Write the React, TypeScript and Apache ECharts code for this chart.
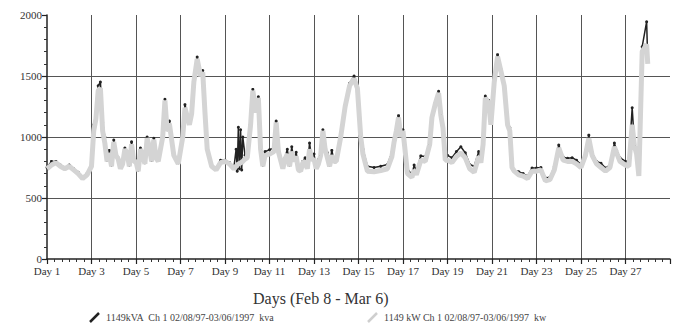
import React, { useEffect, useRef } from "react";
import * as echarts from "echarts";

// Time positions (in days) of the sampled readings
const days = [
  1.0, 1.2, 1.4, 1.6, 1.8, 2.0, 2.2, 2.4, 2.6, 2.8,
  3.0, 3.1, 3.2, 3.3, 3.4, 3.5,
  3.6, 3.7, 3.8, 3.9, 4.0, 4.1, 4.2, 4.3, 4.4, 4.5, 4.6, 4.7, 4.8, 4.9,
  5.0, 5.1, 5.2, 5.3, 5.4, 5.5, 5.6, 5.7, 5.8, 5.9,
  6.0, 6.2, 6.3, 6.4, 6.5, 6.7, 6.9, 7.1, 7.2, 7.4, 7.5, 7.6, 7.75, 7.9, 8.0, 8.1, 8.2, 8.4, 8.6, 8.8,
  9.0, 9.2, 9.4, 9.5, 9.55, 9.6, 9.65, 9.7, 9.75, 9.8, 9.9, 10.0, 10.15, 10.25, 10.4, 10.5, 10.6, 10.7, 10.8,
  11.0, 11.2, 11.3, 11.4, 11.6, 11.7, 11.8, 11.9, 12.0, 12.1, 12.2, 12.3, 12.4, 12.5, 12.6, 12.7, 12.8, 12.9,
  13.0, 13.1, 13.2, 13.3, 13.4, 13.5, 13.6, 13.7, 13.8, 13.9, 14.0,
  14.2, 14.4, 14.6, 14.8, 14.95, 15.1, 15.2, 15.4, 15.7, 16.0, 16.3,
  16.5, 16.6, 16.7, 16.8, 16.9, 17.0, 17.1, 17.2, 17.4, 17.5, 17.6, 17.8, 18.0,
  18.2, 18.3, 18.45, 18.6, 18.7, 18.8, 18.9, 19.0, 19.2, 19.4, 19.6, 19.8, 20.0, 20.2, 20.4, 20.5,
  20.6, 20.7, 20.85, 20.95, 21.1, 21.25, 21.4, 21.55, 21.7, 21.8, 21.9, 22.0,
  22.2, 22.4, 22.6, 22.8, 23.0, 23.2, 23.4, 23.6, 23.8, 24.0,
  24.2, 24.4, 24.6, 24.8, 25.0, 25.2, 25.35, 25.5, 25.7, 25.9, 26.1,
  26.3, 26.5, 26.6, 26.75, 27.0, 27.15, 27.3, 27.4, 27.5, 27.6, 27.75, 27.95, 28.0,
];

// 1149 kW Ch 1 (light grey)
const kw = [
  740, 770, 790, 760, 740, 760, 730, 700, 660, 690,
  760, 1050, 1150, 1380, 1400, 1050,
  950, 800, 870, 760, 960, 850, 820, 740, 780, 900, 870, 760, 940, 800,
  800, 720, 900, 850, 780, 990, 920, 800, 980, 830,
  800, 1000, 1300, 1050, 1110, 850, 780, 1000, 1240, 1100, 1190, 1450, 1640, 1500, 1530, 1200, 900, 760, 730, 790,
  800, 780, 740, 760, 770, 780, 780, 790, 790, 800, 820, 830, 1100, 1380, 1200, 1320, 900, 760, 850,
  860, 880, 1120, 880, 740, 820, 860, 760, 880, 800, 840, 730, 720, 790, 800, 740, 900, 810,
  820, 740, 780, 850, 1050, 900, 830, 760, 850, 800, 800,
  1000, 1250, 1420, 1480, 1400, 1000, 860, 720, 715, 725, 740,
  840, 960, 1050, 1160, 1000, 1050, 880, 700, 670, 730, 690, 810, 800,
  940, 1160, 1270, 1360, 1180, 1070, 810, 810, 790, 840, 870, 830, 740, 710, 840, 790,
  940, 1320, 1280, 1100, 1450, 1660, 1540, 1420, 1100, 1050, 750, 720,
  690, 680, 660, 720, 720, 730, 640, 650, 730, 910,
  810, 800, 800, 780, 750, 850, 990, 850, 780, 750, 720,
  750, 920, 870, 800, 770, 760, 1100, 930, 860, 680, 1700, 1760, 1600,
];

// 1149 kVA Ch 1 (dark)
const kva = [
  750, 800, 800, 770, 750, 770, 740, 710, 670, 700,
  780, 1100, 1180, 1420, 1450, 1120,
  1000, 810, 890, 770, 975, 860, 830, 750, 790, 910, 880, 770, 960, 810,
  810, 730, 910, 860, 790, 1000, 930, 810, 990, 840,
  810, 1010, 1310, 1060, 1130, 860, 790, 1010, 1265, 1120, 1210, 1460, 1655, 1520, 1545, 1210, 910, 770, 740, 810,
  810, 790, 750, 900, 720, 1080, 740, 1060, 730, 1000, 850, 860, 1110, 1390, 1210, 1330, 910, 770, 880,
  895, 910, 1130, 920, 770, 830, 900, 770, 920, 810, 875, 740, 750, 800, 830, 750, 950, 820,
  860, 750, 815, 860, 1060, 910, 870, 770, 890, 810, 840,
  1010, 1260, 1440, 1500, 1430, 1020, 900, 760, 750, 760, 775,
  870, 980, 1060, 1175, 1010, 1060, 890, 740, 690, 770, 720, 845, 840,
  950, 1170, 1280, 1375, 1190, 1080, 840, 850, 830, 880, 920, 870, 775, 760, 880, 810,
  950, 1335, 1300, 1115, 1470, 1675, 1555, 1435, 1110, 1075, 760, 730,
  715, 700, 680, 745, 745, 750, 665, 670, 755, 935,
  835, 825, 830, 810, 775, 875, 1015, 870, 800, 785, 745,
  770, 950, 890, 830, 800, 800, 1240, 950, 880, 700, 1740, 1945, 1620,
];

const dayTickLabels = [
  "Day 1", "Day 3", "Day 5", "Day 7", "Day 9", "Day 11", "Day 13",
  "Day 15", "Day 17", "Day 19", "Day 21", "Day 23", "Day 25", "Day 27",
];

const xTitle = "Days (Feb 8 - Mar 6)";
const legendKva = "1149kVA  Ch 1 02/08/97-03/06/1997  kva";
const legendKw = "1149 kW Ch 1 02/08/97-03/06/1997  kw";

const FONT = "Liberation Serif";

export default function App() {
  const ref = useRef<HTMLDivElement>(null);

  useEffect(() => {
    if (!ref.current) return;
    const chart = echarts.init(ref.current, null, { renderer: "svg" });
    const kvaData = days.map((d, i) => [d, kva[i]]);
    const kwData = days.map((d, i) => [d, kw[i]]);

    chart.setOption({
      animation: false,
      backgroundColor: "#ffffff",
      textStyle: { fontFamily: FONT },
      grid: { left: 47, right: 16, top: 15, bottom: 66, containLabel: false },
      xAxis: {
        type: "value",
        min: 1,
        max: 29,
        interval: 2,
        axisLine: { show: true, lineStyle: { color: "#222", width: 1.5 } },
        axisTick: { show: true, length: 5, lineStyle: { color: "#222", width: 1.2 } },
        minorTick: { show: true, splitNumber: 6, length: 3, lineStyle: { color: "#333", width: 1 } },
        axisLabel: {
          fontFamily: FONT,
          fontSize: 11,
          color: "#333",
          margin: 6,
          formatter: (v: number) => {
            const idx = Math.round((v - 1) / 2);
            return dayTickLabels[idx] ?? "";
          },
        },
        splitLine: {
          show: true,
          showMinLine: false,
          showMaxLine: false,
          lineStyle: { color: "#555", width: 1 },
        },
      },
      yAxis: {
        type: "value",
        min: 0,
        max: 2000,
        interval: 500,
        axisLine: { show: true, lineStyle: { color: "#222", width: 1.5 } },
        axisTick: { show: true, length: 5, lineStyle: { color: "#222", width: 1.2 } },
        minorTick: { show: true, splitNumber: 5, length: 3, lineStyle: { color: "#333", width: 1 } },
        axisLabel: {
          fontFamily: FONT,
          fontSize: 11,
          color: "#333",
          margin: 5,
          formatter: (v: number) => String(v),
        },
        splitLine: {
          show: true,
          showMinLine: false,
          showMaxLine: false,
          lineStyle: { color: "#555", width: 1 },
        },
      },
      series: [
        {
          name: "1149kVA",
          type: "line",
          data: kvaData,
          z: 2,
          showSymbol: true,
          symbol: "circle",
          symbolSize: 3,
          itemStyle: { color: "#222" },
          lineStyle: { color: "#222", width: 1.5 },
        },
        {
          name: "1149 kW",
          type: "line",
          data: kwData,
          z: 3,
          showSymbol: false,
          lineStyle: { color: "#d4d4d4", width: 5 },
        },
      ],
      graphic: [
        {
          type: "text",
          left: 327 - 74,
          top: 290,
          style: { text: xTitle, font: `16px ${FONT}`, fill: "#333" },
        },
        {
          type: "line",
          shape: { x1: 90, y1: 322, x2: 99, y2: 313 },
          style: { stroke: "#222", lineWidth: 2.5 },
        },
        {
          type: "text",
          left: 106,
          top: 312,
          style: { text: legendKva, font: `10px ${FONT}`, fill: "#444" },
        },
        {
          type: "line",
          shape: { x1: 368, y1: 322, x2: 377, y2: 313 },
          style: { stroke: "#cfcfcf", lineWidth: 2.5 },
        },
        {
          type: "text",
          left: 384,
          top: 312,
          style: { text: legendKw, font: `10px ${FONT}`, fill: "#444" },
        },
      ],
    });

    return () => chart.dispose();
  }, []);

  return (
    <div
      ref={ref}
      style={{ position: "fixed", left: 0, top: 0, width: 686, height: 325, background: "#fff" }}
    />
  );
}
